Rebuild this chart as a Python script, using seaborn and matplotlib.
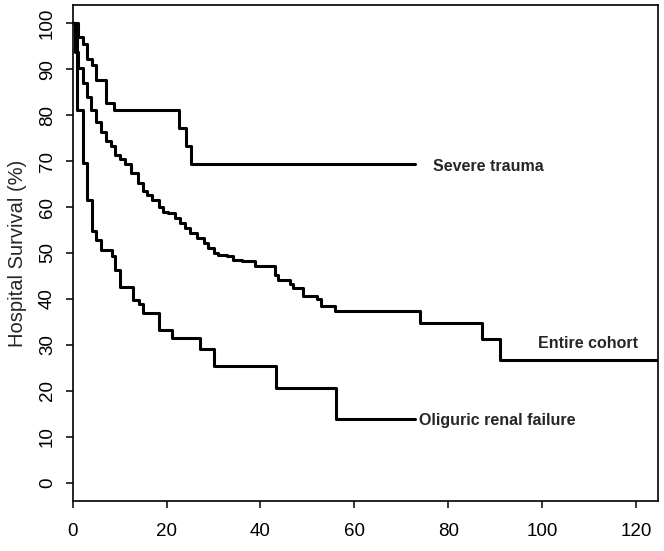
import pandas as pd
import matplotlib
matplotlib.use('Agg')
import matplotlib.pyplot as plt
import seaborn as sns

# Kaplan-Meier style survival curves
trauma_t = [0, 1.2, 2.1, 3.0, 4.1, 4.9, 7.0, 8.9, 22.7, 24.1, 25.1, 72.9]
trauma_s = [100, 97.1, 95.6, 92.2, 90.9, 87.7, 82.6, 81.2, 77.3, 73.3, 69.4, 69.4]

cohort_t = [0, 0.5, 1.2, 2.1, 3.0, 4.0, 4.9, 6.0, 7.1, 8.1, 9.0, 10.1, 11.1, 12.5,
            13.9, 15.0, 15.8, 16.9, 18.3, 19.3, 20.4, 21.8, 22.8, 23.9, 24.9, 26.5,
            27.9, 28.9, 30.0, 31.0, 32.8, 34.2, 36.1, 38.9, 43.1, 43.8, 46.3, 47.0,
            49.1, 52.0, 53.0, 55.9, 74.0, 87.1, 91.0, 124.7]
cohort_s = [100, 93.8, 90.2, 87.0, 84.0, 81.2, 78.6, 76.4, 74.3, 73.2, 71.4, 70.5, 69.4,
            67.4, 65.2, 63.4, 62.7, 61.6, 60.1, 59.0, 58.7, 57.6, 56.5, 55.4, 54.3,
            53.3, 52.2, 51.1, 50.0, 49.6, 49.3, 48.5, 48.2, 47.1, 45.3, 44.2, 43.2,
            42.4, 40.6, 39.9, 38.4, 37.3, 34.8, 31.2, 26.8, 26.8]

oliguric_t = [0, 0.9, 2.1, 3.0, 4.1, 4.9, 6.0, 8.3, 9.0, 10.1, 12.9, 14.1, 15.0,
              18.3, 21.1, 27.2, 30.1, 43.3, 56.1, 72.9]
oliguric_s = [100, 81.2, 69.7, 61.6, 54.7, 52.9, 50.7, 49.3, 46.4, 42.7, 39.8, 38.8,
              37.0, 33.3, 31.5, 29.0, 25.5, 20.5, 13.8, 13.8]

groups = ['Severe trauma', 'Entire cohort', 'Oliguric renal failure']
label_x = [76.8, 99.1, 73.8]
label_y = [68.8, 30.4, 13.6]

df = pd.concat([
    pd.DataFrame({'time': trauma_t, 'survival': trauma_s, 'group': groups[0]}),
    pd.DataFrame({'time': cohort_t, 'survival': cohort_s, 'group': groups[1]}),
    pd.DataFrame({'time': oliguric_t, 'survival': oliguric_s, 'group': groups[2]}),
])

sns.set_style('white')
plt.rcParams['font.family'] = ['Liberation Sans', 'DejaVu Sans']

fig = plt.figure(figsize=(6.64, 5.51), dpi=100)
ax = fig.add_axes([0.1095, 0.0907, 0.8815, 0.9003])

sns.lineplot(data=df, x='time', y='survival', hue='group', estimator=None,
             palette=['black'] * 3, drawstyle='steps-post', linewidth=2.2,
             legend=False, ax=ax)

for name, tx, ty in zip(groups, label_x, label_y):
    ax.text(tx, ty, name, fontsize=11.5, fontweight='bold', va='center', ha='left')

ax.set_xlim(0, 124.7)
ax.set_ylim(-4, 104)
ax.set_xticks(range(0, 121, 20))
ax.set_yticks(range(0, 101, 10))
ax.set_xlabel('')
ax.set_ylabel('Hospital Survival (%)', fontsize=14.5, labelpad=9)

for side in ax.spines.values():
    side.set_visible(True)
    side.set_linewidth(1.2)
    side.set_color('black')

ax.tick_params(axis='both', direction='out', length=5, width=1.1, colors='black',
               labelsize=13.5, left=True, bottom=True)
ax.tick_params(axis='x', pad=11)
ax.tick_params(axis='y', pad=7)
plt.setp(ax.get_yticklabels(), rotation=90, va='center')

fig.savefig('out.png', dpi=100)
